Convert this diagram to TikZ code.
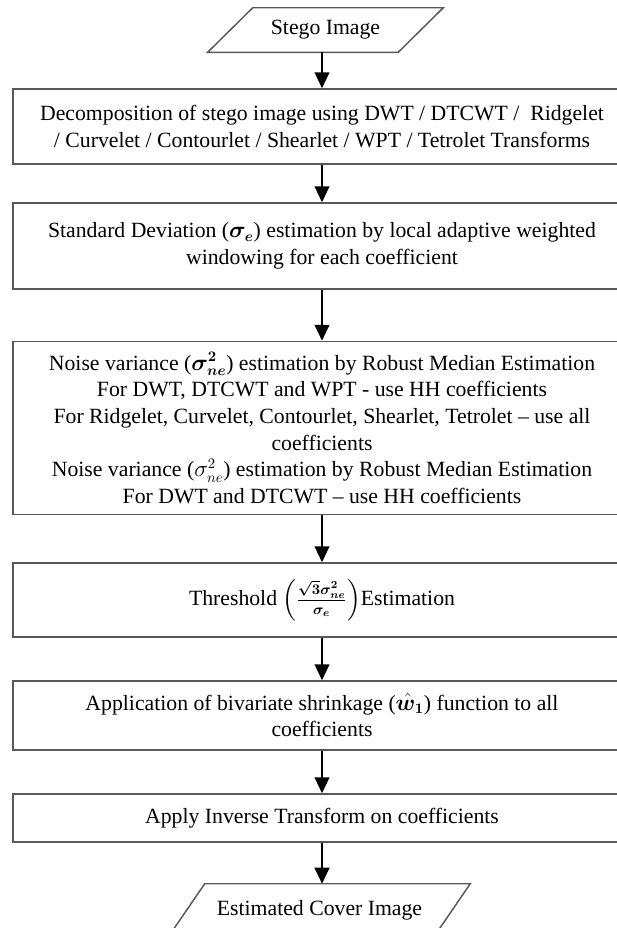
\documentclass[tikz,border=0pt]{standalone}
\usepackage{amsmath,bm}
\usepackage{fontspec}
\setmainfont{Liberation Serif}
\usetikzlibrary{arrows.meta}

\tikzset{
  box/.style={draw=black!65, line width=1.1pt, minimum width=463.5pt, align=center,
    inner sep=0pt, font=\fontsize{16.3}{20}\selectfont},
  io/.style={inner sep=0pt, minimum height=33pt, font=\fontsize{16.3}{20}\selectfont},
  ioline/.style={draw=black!65, line width=1.1pt},
  arr/.style={-{Triangle[length=12pt,width=11pt]}, line width=1.6pt},
}

\begin{document}
\begin{tikzpicture}[x=0.75pt,y=-0.75pt]
  \useasboundingbox (0,0) rectangle (617,928);
  \clip (0,0) rectangle (617,928);
  % input image
  \node[io, minimum width=142.5pt] (stego) at (325.5,30) {Stego Image};
  \draw[ioline] ([xshift=16.9pt]stego.north west) -- ([xshift=16.9pt]stego.north east)
    -- ([xshift=-16.9pt]stego.south east) -- ([xshift=-16.9pt]stego.south west) -- cycle;
  % processing steps
  \node[box, minimum height=56.25pt] (decomp) at (322,126.5)
    {Decomposition of stego image using DWT / DTCWT / \ Ridgelet\\
     / Curvelet / Contourlet / Shearlet / WPT / Tetrolet Transforms};
  \node[box, minimum height=64.5pt] (stdev) at (322,246)
    {Standard Deviation ($\bm{\sigma_e}$) estimation by local adaptive weighted\\
     windowing for each coefficient};
  \node[box, minimum height=129.75pt] (noise) at (322,428)
    {Noise variance ($\bm{\sigma^2_{ne}}$) estimation by Robust Median Estimation\\
     For DWT, DTCWT and WPT - use HH coefficients\\
     For Ridgelet, Curvelet, Contourlet, Shearlet, Tetrolet -- use all\\
     coefficients\\
     Noise variance ($\sigma^2_{ne}$) estimation by Robust Median Estimation\\
     For DWT and DTCWT -- use HH coefficients};
  \node[box, minimum height=55.5pt] (thresh) at (322,600)
    {Threshold $\left(\bm{\frac{\sqrt{3}\sigma^2_{ne}}{\sigma_e}}\right)$Estimation};
  \node[box, minimum height=51.75pt] (shrink) at (322,715.5)
    {Application of bivariate shrinkage ($\bm{\hat{w}_1}$) function to all\\
     coefficients};
  \node[box, minimum height=36pt] (inverse) at (322,818)
    {Apply Inverse Transform on coefficients};
  % output image
  \node[io, minimum width=198.75pt, minimum height=39pt] (cover) at (319.5,910) {Estimated Cover Image};
  \draw[ioline] ([xshift=13.5pt]cover.north west) -- ([xshift=13.5pt]cover.north east)
    -- ([xshift=-13.5pt]cover.south east) -- ([xshift=-13.5pt]cover.south west) -- cycle;
  % arrows
  \draw[arr] (stego.south -| decomp) -- (decomp);
  \draw[arr] (decomp) -- (stdev);
  \draw[arr] (stdev) -- (noise);
  \draw[arr] (noise) -- (thresh);
  \draw[arr] (thresh) -- (shrink);
  \draw[arr] (shrink) -- (inverse);
  \draw[arr] (inverse) -- (inverse |- cover.north);
\end{tikzpicture}
\end{document}
